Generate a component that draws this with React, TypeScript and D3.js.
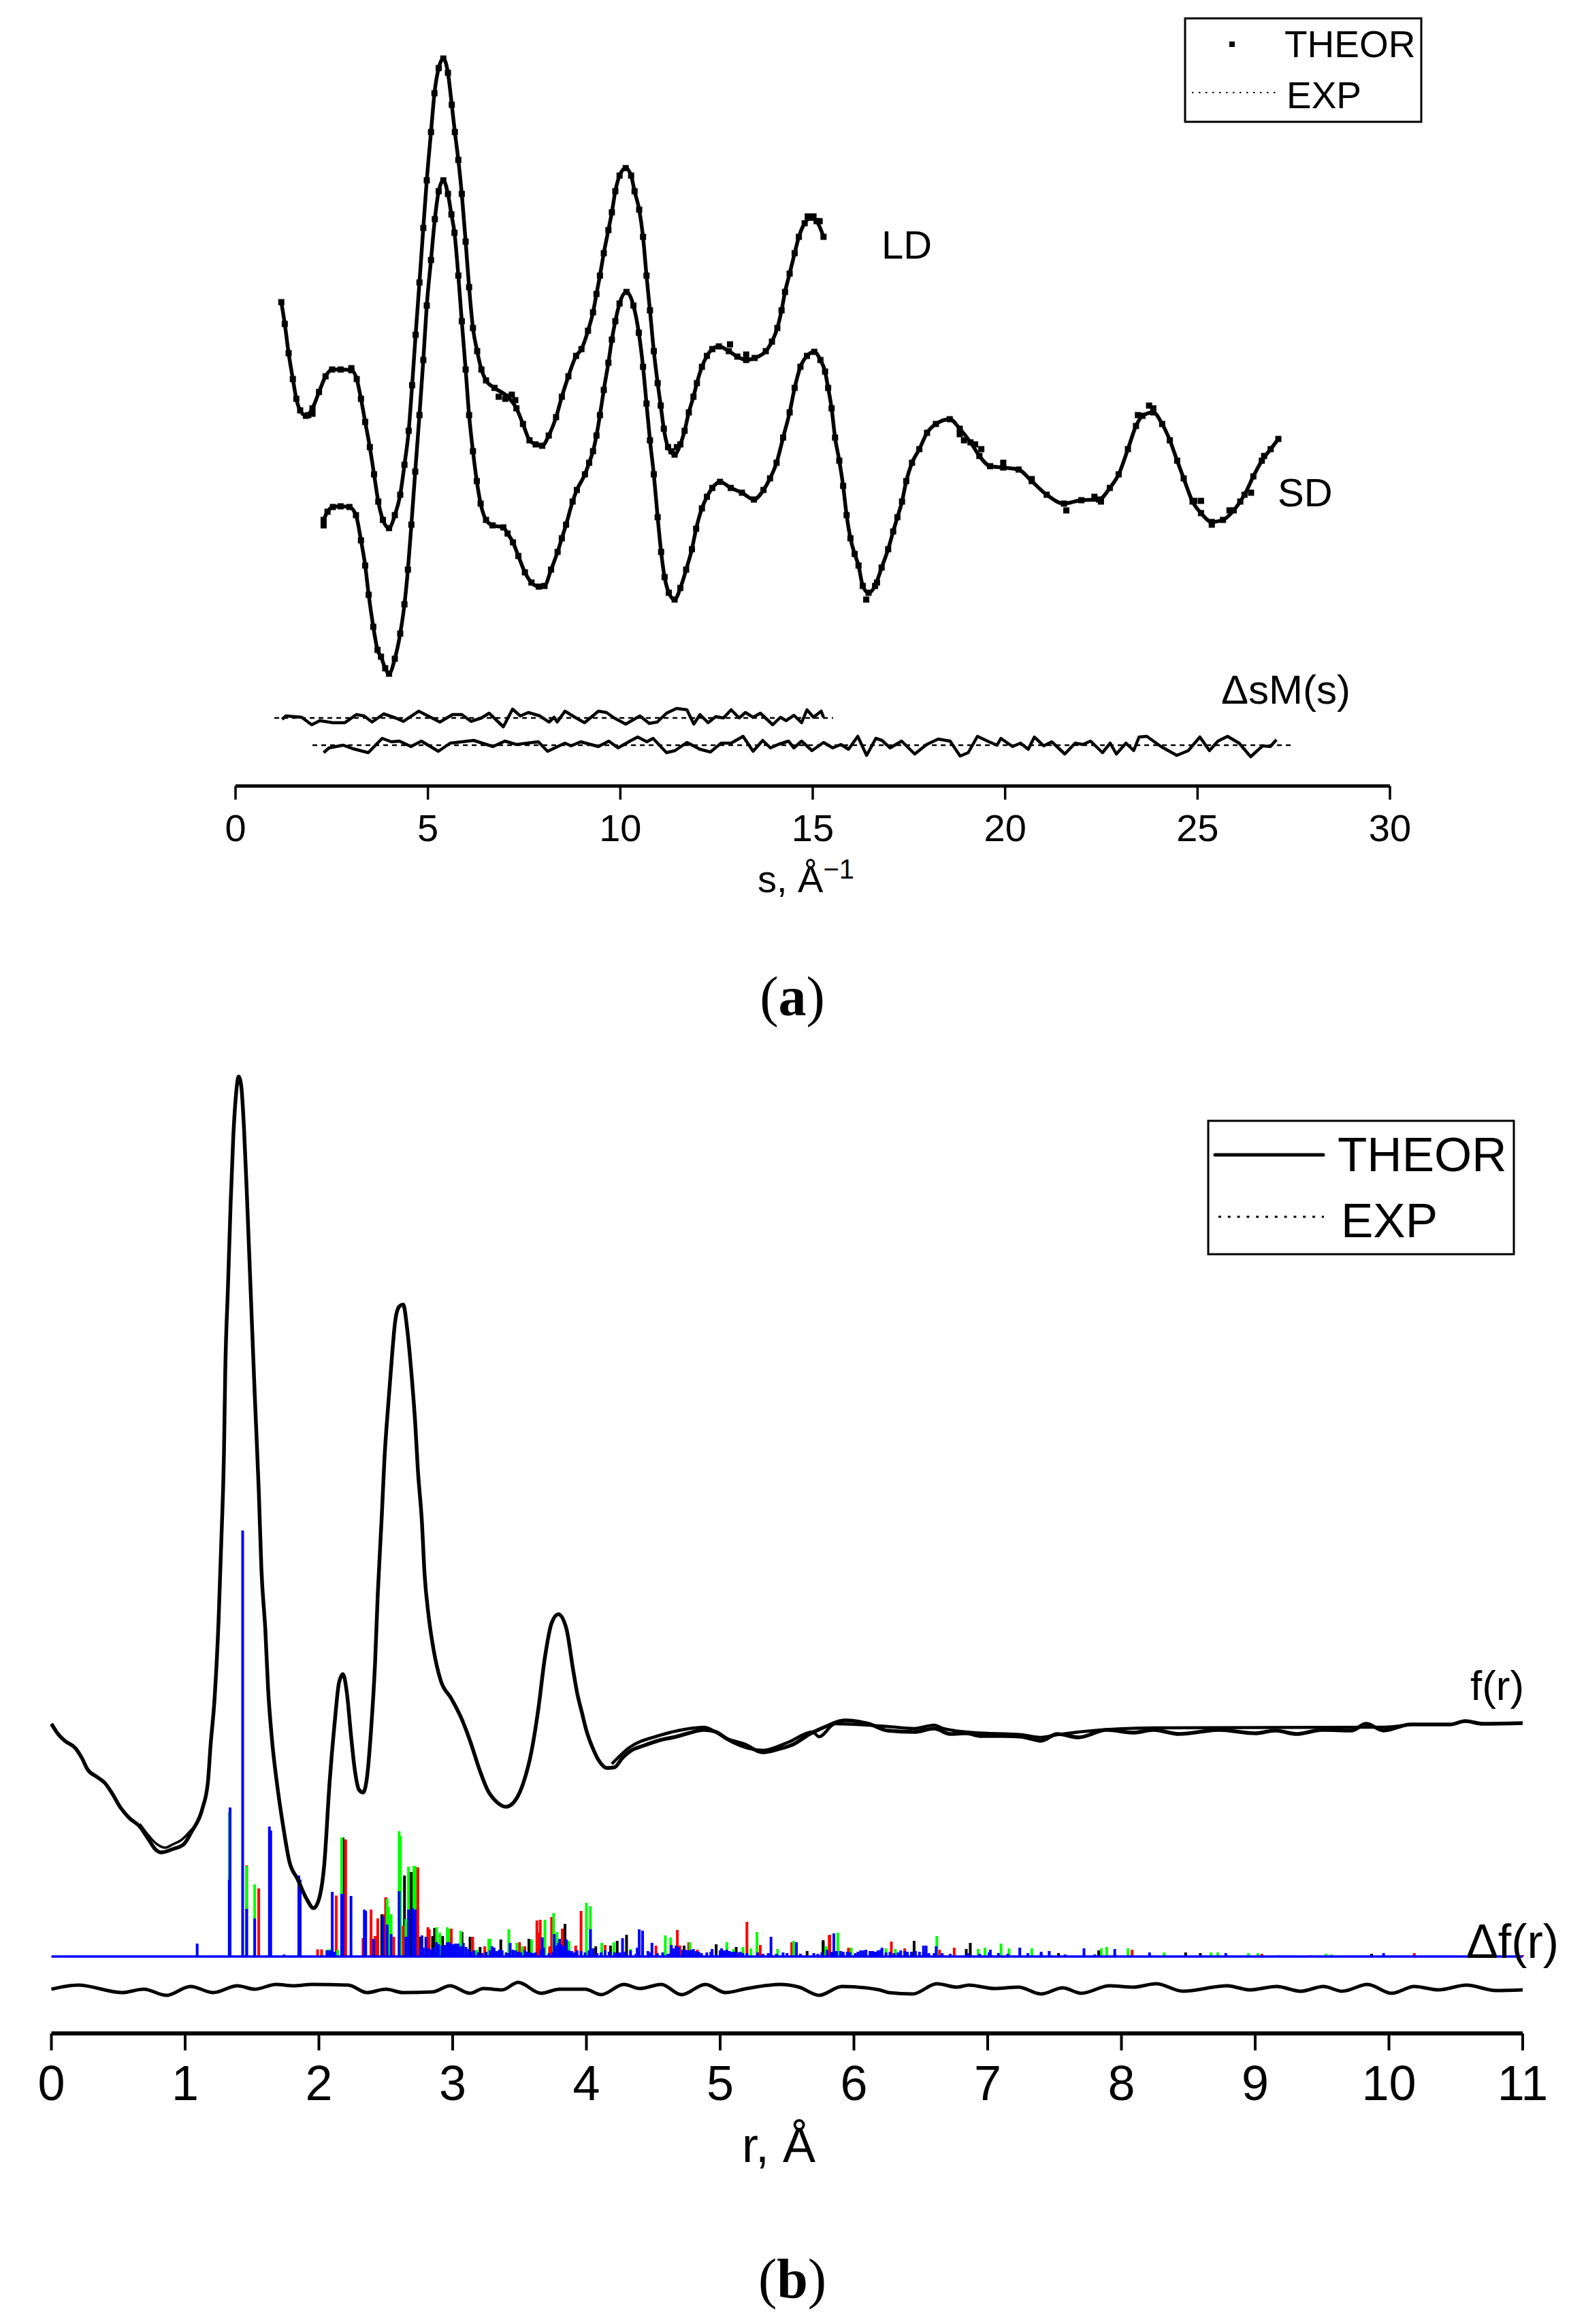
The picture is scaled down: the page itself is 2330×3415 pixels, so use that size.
import { useEffect, useRef } from 'react'
import * as d3 from 'd3'

type Pt = [number, number]

// panel (a): s in 1/angstrom, molecular intensity in arbitrary units
const ldCurve: Pt[] = [[1.19,71.1],[1.28,67.9],[1.38,63.6],[1.49,59.8],[1.58,56.9],[1.68,55.2],[1.83,54.4],[2.0,55.5],[2.17,57.9],[2.34,60.2],[2.51,61.2],[2.73,61.2],[3.01,61.1],[3.15,59.8],[3.26,56.9],[3.37,53.5],[3.49,49.8],[3.6,45.8],[3.71,41.8],[3.83,39.1],[3.99,37.9],[4.14,39.8],[4.28,42.8],[4.39,47.2],[4.5,52.2],[4.59,58.9],[4.68,66.3],[4.78,74.0],[4.88,82.0],[4.97,89.0],[5.08,96.1],[5.17,101.8],[5.28,105.5],[5.4,106.9],[5.52,104.8],[5.62,100.1],[5.7,96.1],[5.79,92],[5.88,87.0],[5.98,80.0],[6.07,73.3],[6.17,67.3],[6.28,63.9],[6.39,61.2],[6.51,59.6],[6.73,58.5],[7.07,57.2],[7.3,55.5],[7.47,53.2],[7.64,50.8],[7.8,50.2],[7.97,50.0],[8.14,51.5],[8.33,54.2],[8.48,57.2],[8.65,60.2],[8.85,63.2],[8.99,64.2],[9.16,66.9],[9.29,69.6],[9.38,72.3],[9.47,75.0],[9.57,78.3],[9.69,81.7],[9.78,84.3],[9.87,87.4],[9.98,89.7],[10.14,90.8],[10.28,89.7],[10.37,87.4],[10.49,84.7],[10.59,80.7],[10.68,75.0],[10.77,69.9],[10.87,63.9],[10.97,59.2],[11.05,55.9],[11.13,52.5],[11.24,49.8],[11.41,48.7],[11.56,50.2],[11.67,52.2],[11.78,54.9],[11.9,57.2],[11.99,59.2],[12.12,61.6],[12.25,63.2],[12.39,64.2],[12.56,64.6],[12.82,63.9],[13.04,63.1],[13.27,62.6],[13.49,62.9],[13.78,63.9],[13.94,65.3],[14.08,67.3],[14.19,69.9],[14.28,72.6],[14.4,75.3],[14.53,78.3],[14.64,80.7],[14.79,82.7],[14.94,83.5],[15.1,83.0],[15.28,80.7]]
const ldTheorOff: Pt[] = [[7.18,57.5],[7.01,56.9],[6.84,57.2],[7.27,56.7],[12.85,64.9],[13.27,63.4],[15.02,83.7],[14.87,83.7],[15.18,83.0],[11.47,49.8],[11.33,49.2],[1.89,54.5],[2.0,54.7],[3.01,61.4]]

const sdCurve: Pt[] = [[2.29,39.1],[2.39,40.3],[2.53,41.0],[2.73,41.1],[2.96,41.0],[3.13,39.8],[3.26,36.1],[3.37,32.4],[3.46,28.1],[3.58,23.4],[3.69,20.0],[3.78,19.0],[3.89,17.3],[3.99,16.5],[4.14,18.7],[4.28,22.4],[4.39,26.7],[4.48,31.8],[4.57,38.4],[4.67,46.2],[4.78,54.5],[4.88,62.6],[4.97,70.6],[5.08,77.3],[5.18,83.3],[5.28,87.4],[5.4,89.0],[5.52,87.0],[5.61,84.0],[5.69,81.3],[5.79,75.0],[5.88,68.3],[5.98,61.2],[6.07,54.5],[6.17,49.2],[6.27,44.8],[6.37,41.5],[6.51,39.1],[6.68,38.3],[6.96,38.0],[7.07,37.1],[7.21,35.8],[7.35,33.8],[7.52,31.4],[7.69,29.9],[7.88,29.3],[8.03,29.4],[8.2,31.8],[8.37,34.4],[8.48,36.4],[8.59,38.4],[8.76,41.8],[8.87,43.5],[9.08,45.8],[9.19,47.5],[9.29,49.2],[9.38,51.5],[9.47,54.5],[9.57,58.2],[9.69,62.2],[9.78,65.6],[9.87,68.3],[9.98,70.9],[10.16,72.6],[10.34,70.6],[10.48,66.6],[10.59,61.6],[10.68,56.2],[10.77,50.8],[10.87,45.8],[10.97,39.5],[11.06,34.4],[11.15,30.7],[11.26,28.4],[11.41,27.4],[11.56,29.1],[11.71,31.8],[11.86,34.8],[11.97,37.8],[12.12,40.8],[12.25,42.5],[12.39,43.8],[12.59,44.7],[12.87,43.8],[13.16,43.1],[13.47,42.1],[13.72,43.5],[13.89,45.2],[14.06,47.5],[14.23,51.2],[14.4,54.9],[14.53,58.5],[14.68,61.6],[14.85,63.2],[15.04,63.8],[15.2,62.6],[15.32,60.9],[15.4,58.5],[15.49,55.5],[15.58,51.2],[15.69,47.8],[15.79,44.1],[15.88,39.8],[15.98,36.4],[16.09,34.1],[16.19,32.4],[16.3,29.4],[16.45,28.4],[16.62,29.4],[16.79,32.1],[16.96,34.8],[17.09,37.4],[17.2,39.5],[17.32,41.8],[17.43,44.8],[17.58,47.5],[17.77,49.5],[17.97,51.9],[18.2,53.2],[18.56,53.9],[18.82,52.5],[19.1,50.5],[19.33,48.5],[19.61,47.0],[19.95,46.8],[20.35,46.5],[20.69,44.8],[21.08,42.8],[21.53,41.5],[21.98,42.0],[22.44,42.1],[22.72,43.8],[22.95,45.8],[23.19,49.5],[23.4,52.9],[23.57,54.4],[23.85,54.9],[24.08,53.2],[24.28,50.8],[24.47,47.8],[24.64,45.2],[24.87,41.8],[25.09,40.1],[25.37,38.8],[25.66,39.1],[25.94,40.5],[26.22,42.8],[26.45,45.5],[26.67,47.8],[26.9,49.5],[27.1,51.0]]
const sdTheorOff: Pt[] = [[2.29,38.3],[23.74,55.9],[23.85,55.5],[23.45,54.5],[18.82,51.7],[18.93,50.8],[19.22,50.2],[19.38,49.5],[19.95,47.5],[20.69,45.1],[21.59,40.5],[22.32,42.5],[22.49,41.8],[25.37,38.4],[25.83,40.5],[26.11,41.8],[26.39,43.1],[26.73,48.5],[16.39,27.4],[16.67,29.9],[24.92,41.9],[25.09,41.9]]

const dsmLd: Pt[] = [[1.21,9.8],[1.31,10.3],[1.72,10.1],[1.98,9.0],[2.19,9.6],[2.53,9.3],[2.84,9.3],[3.14,10.5],[3.34,10.3],[3.55,9.4],[3.85,10.6],[4.16,10.0],[4.36,9.5],[4.76,11.0],[5.07,10.1],[5.31,9.4],[5.64,10.5],[5.88,10.5],[6.12,9.5],[6.39,10.0],[6.59,10.7],[6.96,8.7],[7.2,11.3],[7.4,10.3],[7.61,10.8],[7.91,10.3],[8.15,9.4],[8.28,10.1],[8.36,9.4],[8.56,11.0],[8.82,10.1],[9.07,9.3],[9.43,11.0],[9.64,10.8],[9.84,10.0],[10.14,9.1],[10.51,10.3],[10.75,9.2],[10.96,9.4],[11.2,10.7],[11.46,11.4],[11.73,11.2],[11.91,9.1],[12.07,10.5],[12.28,9.3],[12.48,10.2],[12.68,10.0],[12.88,11.2],[13.09,10.0],[13.25,10.8],[13.45,10.1],[13.64,10.7],[13.96,9.0],[14.16,10.1],[14.31,9.6],[14.51,10.4],[14.71,9.3],[14.85,11.2],[15.02,10.1],[15.22,11.0],[15.28,10.1]]
const dsmSd: Pt[] = [[2.29,4.9],[2.43,5.6],[2.8,6.0],[3.04,5.5],[3.45,4.9],[3.81,7.0],[4.05,6.5],[4.26,6.6],[4.56,5.8],[4.83,6.6],[5.27,5.1],[5.58,6.3],[6.19,6.7],[6.69,5.8],[7.0,6.6],[7.3,6.1],[7.87,6.5],[8.11,5.1],[8.56,6.3],[8.72,5.9],[8.97,6.5],[9.43,5.8],[9.7,6.6],[9.94,5.6],[10.25,6.6],[10.45,7.2],[10.69,6.5],[10.85,7.0],[11.2,4.9],[11.42,5.2],[11.73,6.4],[12.07,5.4],[12.34,5.0],[12.62,6.3],[12.88,6.3],[13.19,7.3],[13.45,5.1],[13.7,6.7],[13.9,5.6],[14.1,6.1],[14.37,6.6],[14.51,5.6],[14.71,6.6],[14.98,5.2],[15.28,6.4],[15.52,5.6],[15.73,6.1],[15.93,5.4],[16.17,7.3],[16.4,4.5],[16.64,7.0],[16.8,6.7],[17.01,5.6],[17.31,6.6],[17.65,4.7],[17.96,6.1],[18.26,6.9],[18.57,6.6],[18.83,4.4],[19.04,4.9],[19.28,7.3],[19.58,6.5],[19.79,6.0],[19.89,7.0],[20.19,5.8],[20.4,6.3],[20.6,5.4],[20.76,7.2],[21.0,5.9],[21.21,6.5],[21.55,4.7],[21.82,6.3],[22.02,6.1],[22.22,6.6],[22.53,4.9],[22.73,6.3],[22.89,4.7],[23.14,6.3],[23.34,5.2],[23.48,7.2],[23.68,7.3],[24.05,5.8],[24.46,4.5],[24.76,5.2],[25.06,7.2],[25.31,5.2],[25.53,6.6],[25.78,7.3],[26.08,6.3],[26.38,4.3],[26.69,5.9],[26.89,5.8],[27.05,6.8]]
const dsmLdZero: Pt[] = [[1.01,10],[15.53,10]]
const dsmSdZero: Pt[] = [[2.0,6],[27.5,6]]

const sMajor = [0, 5, 10, 15, 20, 25, 30]
const sMinor = [2.5, 7.5, 12.5, 17.5, 22.5, 27.5]

// panel (b): r in angstrom, f(r) in arbitrary units
const fTheor: Pt[] = [[0,45.5],[0.05,44.0],[0.1,43.0],[0.18,41.9],[0.23,40.4],[0.27,38.8],[0.34,37.7],[0.4,36.8],[0.45,35.4],[0.52,33.1],[0.58,31.7],[0.66,30.4],[0.73,28.4],[0.78,27.0],[0.82,26.6],[0.91,27.1],[0.99,27.8],[1.05,29.7],[1.13,33.1],[1.17,36.9],[1.19,42.3],[1.22,49.2],[1.25,60.7],[1.27,72.1],[1.29,85.1],[1.3,97.4],[1.32,109.6],[1.34,121.9],[1.36,131.8],[1.38,137.9],[1.4,140.6],[1.42,139.1],[1.44,133],[1.46,124],[1.49,109],[1.52,94],[1.55,80],[1.57,68.3],[1.6,59.1],[1.62,50.7],[1.65,43.0],[1.69,36.2],[1.73,30.8],[1.78,25.2],[1.84,22.7],[1.91,19.7],[1.96,18.4],[2.0,19.7],[2.04,24.8],[2.08,36.9],[2.12,46.1],[2.15,51.5],[2.18,52.8],[2.21,49.9],[2.24,43.8],[2.27,38.5],[2.3,35.8],[2.33,35.4],[2.36,37.7],[2.39,44.6],[2.42,54.5],[2.44,64.5],[2.47,76.0],[2.49,84.4],[2.52,92.8],[2.55,100.4],[2.57,104.6],[2.6,106.8],[2.63,107.1],[2.66,103.5],[2.69,97.4],[2.72,89.7],[2.74,82.8],[2.77,75.2],[2.79,67.5],[2.82,61.4],[2.86,56.1],[2.91,51.9],[2.99,49.2],[3.07,46.1],[3.13,43.0],[3.2,38.8],[3.26,35.8],[3.33,34.0],[3.4,33.3],[3.48,34.6],[3.53,36.9],[3.59,41.5],[3.64,47.6],[3.69,55.3],[3.74,60.3],[3.79,61.6],[3.85,59.5],[3.9,53.5],[3.93,50.1],[3.967,47.1],[4.0,44.5],[4.05,41.8],[4.096,40.0],[4.154,39.0],[4.21,39.1],[4.27,40.5],[4.33,41.5],[4.43,42.3],[4.55,43.1],[4.67,43.6],[4.76,44.1],[4.88,44.6],[4.97,44.3],[5.05,43.3],[5.18,42.5],[5.32,41.3],[5.44,41.8],[5.55,42.5],[5.67,44.0],[5.79,45.1],[5.93,46.0],[6.11,45.5],[6.25,44.5],[6.45,44.3],[6.6,44.8],[6.72,44.0],[6.84,44.1],[6.95,43.7],[7.12,43.7],[7.25,43.6],[7.4,43.0],[7.52,44.0],[7.68,43.5],[7.89,44.6],[8.09,44.2],[8.24,44.6],[8.43,44.0],[8.73,44.6],[9.0,44.1],[9.15,44.5],[9.31,44.0],[9.5,44.6],[9.72,44.5],[9.83,45.5],[9.96,44.5],[10.16,45.4],[10.46,45.4],[10.57,45.9],[10.7,45.5],[11,45.6]]
const fExpLow: Pt[] = [[0.66,30.8],[0.73,29.0],[0.79,27.8],[0.85,27.3],[0.91,27.8],[0.97,28.4],[1.05,30.0]]
const fExpHigh: Pt[] = [[4.19,39.6],[4.32,42.0],[4.53,43.7],[4.74,44.7],[4.88,45.0],[4.99,44.0],[5.09,42.8],[5.32,41.6],[5.51,42.8],[5.69,44.3],[5.74,43.6],[5.86,45.5],[6.25,45.1],[6.45,44.8],[6.6,45.3],[6.67,44.8],[6.9,44.2],[7.25,43.9],[7.4,43.5],[7.52,43.9],[8.24,44.9],[9.96,45.0],[10.16,45.4]]

const dfResidual: Pt[] = [[0,6.5],[0.2,7.1],[0.53,6.0],[0.69,6.5],[0.86,5.6],[1.04,6.9],[1.21,6.0],[1.39,7.0],[1.52,6.5],[1.68,7.2],[1.81,7.0],[1.95,7.2],[2.22,7.1],[2.36,6.0],[2.5,6.5],[2.63,6.0],[2.85,6.1],[2.98,7.0],[3.13,5.9],[3.23,6.6],[3.37,6.4],[3.49,7.5],[3.66,5.9],[3.8,6.5],[3.99,6.5],[4.11,5.7],[4.28,7.2],[4.4,6.6],[4.56,7.2],[4.71,5.7],[4.89,7.2],[5.04,6.0],[5.2,6.6],[5.45,7.2],[5.59,6.8],[5.74,5.6],[5.91,6.9],[6.19,6.4],[6.26,6.0],[6.44,5.8],[6.62,7.3],[6.77,6.8],[6.86,7.1],[7.05,6.6],[7.23,6.8],[7.4,5.8],[7.56,6.7],[7.7,5.9],[7.91,7.0],[8.09,6.8],[8.26,7.3],[8.46,6.2],[8.79,7.0],[8.96,6.4],[9.16,6.9],[9.34,6.2],[9.51,6.9],[9.65,6.2],[9.84,7.2],[10.02,5.9],[10.19,6.9],[10.37,6.4],[10.58,7.1],[10.8,6.3],[11,6.4]]

const stickBase = 11.3
const sticksBlack: Pt[] = [[2.18,17.5],[2.39,2.7],[2.47,6.2],[2.5,8.7],[2.64,11.9],[2.69,12.4],[2.75,2.9],[2.85,3.0],[2.865,4.2],[2.925,3.0],[3.07,3.6],[3.13,2.9],[3.205,1.4],[3.36,2.5],[3.57,2.6],[3.84,4.8],[4.07,1.5],[4.18,1.6],[4.23,2.3],[4.3,3.2],[4.73,1.6],[4.97,1.8],[5.12,1.4],[5.65,0.8],[5.77,2.2],[5.77,2.4],[6.45,2.3],[6.84,1.1],[6.87,2.0],[7.53,0.5],[7.83,0.9],[8.48,0.6],[8.59,0.5],[9.87,0.4]]
const sticksRed: Pt[] = [[1.46,13.4],[1.55,10.0],[1.99,1.05],[2.02,1.05],[2.13,8.95],[2.2,17.2],[2.33,2.7],[2.39,6.9],[2.42,3.0],[2.44,5.6],[2.49,6.2],[2.5,8.7],[2.56,2.9],[2.63,4.5],[2.74,13.1],[2.815,4.3],[2.825,4.0],[2.99,4.1],[3.15,2.9],[3.24,1.5],[3.5,2.1],[3.54,1.5],[3.63,5.3],[3.64,3.5],[3.655,5.4],[3.725,1.5],[3.74,5.8],[3.82,4.1],[3.92,1.6],[3.96,6.7],[4.14,1.7],[4.52,1.6],[4.68,3.9],[4.7,1.6],[4.765,2.1],[4.83,1.0],[5.2,5.1],[5.3,1.7],[5.535,2.1],[5.815,3.1],[5.96,1.1],[5.82,3.2],[5.96,1.3],[6.28,2.2],[6.38,1.2],[6.64,1.0],[6.75,1.3],[8.08,1.0],[9.05,0.4],[9.18,0.2],[9.41,0.2],[10.19,0.5],[11,0.2]]
const sticksGreen: Pt[] = [[1.33,21.2],[1.46,13.3],[1.52,10.6],[2.07,1.05],[2.09,1.05],[2.14,1.0],[2.17,17.5],[2.51,8.5],[2.52,7.3],[2.54,6.2],[2.6,18.4],[2.61,17.7],[2.65,5.5],[2.67,13.2],[2.71,13.3],[2.72,13.3],[2.88,4.3],[2.905,3.5],[2.96,4.3],[2.97,4.1],[3.06,3.8],[3.18,1.0],[3.27,2.6],[3.28,2.6],[3.42,4.0],[3.48,2.0],[3.52,1.5],[3.59,2.5],[3.69,5.4],[3.755,6.4],[3.78,3.6],[3.87,2.3],[4.0,7.9],[4.03,7.4],[4.115,2.0],[4.205,2.1],[4.33,1.1],[4.59,3.1],[4.63,2.8],[4.775,2.1],[5.05,2.1],[5.1,1.1],[5.17,1.4],[5.23,1.2],[5.275,3.6],[5.43,1.1],[5.55,2.3],[5.79,1.4],[5.88,3.4],[5.79,1.5],[5.88,3.5],[5.98,1.3],[6.24,1.2],[6.31,1.1],[6.62,3.0],[6.93,1.1],[6.98,1.3],[7.1,1.9],[7.16,1.2],[7.33,1.2],[7.85,1.2],[7.89,1.4],[8.05,1.2],[8.32,0.6],[8.67,0.6],[8.72,0.6],[8.95,0.5],[9.02,0.5],[9.53,0.4],[9.57,0.3]]
const sticksBlue: Pt[] = [[1.09,1.9],[1.33,11.3],[1.336,21.9],[1.43,62.6],[1.46,7.0],[1.52,5.6],[1.63,19.1],[1.64,18.5],[1.74,0.3],[1.85,11.9],[1.86,11.3],[2.1,9.5],[2.17,9.2],[2.18,9.2],[2.24,8.9],[2.34,6.9],[2.35,6.7],[2.41,2.6],[2.48,5.9],[2.51,4.7],[2.54,3.3],[2.6,9.6],[2.65,2.9],[2.67,6.9],[2.7,7.1],[2.72,6.9],[2.77,3.1],[2.8,2.9],[2.88,2.1],[2.895,1.8],[2.96,2.1],[2.975,2.1],[3.0,1.8],[3.02,1.9],[3.04,1.9],[3.08,2.0],[3.295,1.5],[3.43,2.0],[3.67,2.8],[3.76,3.3],[3.8,2.6],[3.85,2.5],[4.03,4.0],[4.27,2.7],[4.38,1.3],[4.395,4.0],[4.42,3.8],[4.49,2.0],[4.635,1.7],[4.94,1.1],[5.01,1.2],[5.38,2.9],[5.57,2.1],[5.85,3.2],[5.85,3.4],[6.21,1.3],[6.52,1.6],[6.54,1.6],[6.615,1.5],[7.02,1.0],[7.24,1.3],[7.4,0.7],[7.46,0.8],[7.72,1.2],[7.95,1.1],[8.21,0.6],[8.78,0.5],[9.96,0.5],[2.06,0.9],[2.08,0.9],[2.12,0.7],[2.76,1.2],[2.78,1.3],[2.82,1.2],[2.84,1.0],[2.86,1.4],[2.92,1.6],[2.94,1.7],[2.98,1.9],[3.0,1.7],[3.06,1.5],[3.1,1.4],[3.12,1.1],[3.14,0.7],[3.16,0.9],[3.19,0.6],[3.22,0.5],[3.25,0.7],[3.28,0.9],[3.31,1.3],[3.33,0.8],[3.35,1.0],[3.37,0.9],[3.4,0.6],[3.42,0.5],[3.45,1.0],[3.47,0.9],[3.49,0.7],[3.51,0.6],[3.54,0.9],[3.56,0.7],[3.58,0.6],[3.6,0.5],[3.62,0.6],[3.66,1.0],[3.68,1.3],[3.72,0.5],[3.75,0.7],[3.77,1.6],[3.79,2.0],[3.81,1.8],[3.83,1.5],[3.87,0.9],[3.89,0.8],[3.91,0.6],[3.93,0.9],[3.96,0.8],[3.99,0.6],[4.02,0.9],[4.05,1.2],[4.08,0.5],[4.11,0.6],[4.14,0.9],[4.17,0.7],[4.21,0.6],[4.23,0.5],[4.25,0.6],[4.29,0.7],[4.33,0.9],[4.37,0.4],[4.42,1.2],[4.46,0.8],[4.48,0.6],[4.53,0.5],[4.57,0.6],[4.61,0.4],[4.63,0.5],[4.65,1.2],[4.67,1.6],[4.69,1.4],[4.72,1.0],[4.74,1.0],[4.76,0.9],[4.78,1.0],[4.8,1.1],[4.82,0.8],[4.84,0.7],[4.86,0.5],[4.9,0.6],[4.93,0.7],[4.97,0.4],[5.0,0.9],[5.03,0.9],[5.05,1.0],[5.07,0.8],[5.09,0.7],[5.11,0.7],[5.13,0.6],[5.15,0.7],[5.17,0.5],[5.2,0.5],[5.28,0.6],[5.32,0.4],[5.36,0.5],[5.42,0.4],[5.47,0.6],[5.5,0.5],[5.6,0.4],[5.7,0.5],[5.73,0.4],[5.76,0.6],[5.8,1.0],[5.83,0.7],[5.87,0.8],[5.9,0.8],[5.92,0.7],[5.95,0.7],[5.97,0.6],[6.01,0.5],[6.03,0.7],[6.05,0.9],[6.07,0.9],[6.09,1.0],[6.12,0.8],[6.14,0.8],[6.16,0.7],[6.18,0.9],[6.2,1.0],[6.24,0.6],[6.27,0.7],[6.3,0.5],[6.33,0.6],[6.35,0.9],[6.38,0.8],[6.4,0.7],[6.43,0.7],[6.46,0.8],[6.49,0.7],[6.52,0.6],[6.56,0.5],[6.6,0.5],[6.66,0.5],[6.72,0.4],[6.85,0.5],[6.94,0.4],[7.01,0.6],[7.08,0.5],[7.15,0.4],[7.3,0.5],[7.4,0.4],[7.58,0.3],[7.8,0.3],[7.95,0.3]]
const stickLayers: [Pt[], string][] = [[sticksBlack, '#000'], [sticksRed, '#ff0000'], [sticksGreen, '#00ff00'], [sticksBlue, '#0000ff']]

const rMajor = d3.range(0, 12)
const rMinor = d3.range(0, 11).map(d => d + 0.5)

const sans = '"Liberation Sans", Arial, sans-serif'
const serif = '"Liberation Serif", "Times New Roman", serif'

export default function App() {
  const svgRef = useRef<SVGSVGElement>(null)

  useEffect(() => {
    if (!svgRef.current) return
    const svg = d3.select(svgRef.current)
    svg.selectAll('*').remove()

    const xA = d3.scaleLinear().domain([0, 30]).range([346, 2042])
    const yA = d3.scaleLinear().domain([0, 115.5]).range([1155, 0])
    const xB = d3.scaleLinear().domain([0, 11]).range([75.5, 2237])
    const yB = d3.scaleLinear().domain([0, 298.8]).range([2988, 0])

    const lineA = d3.line<Pt>().x(d => xA(d[0])).y(d => yA(d[1])).curve(d3.curveMonotoneX)
    const jagA = d3.line<Pt>().x(d => xA(d[0])).y(d => yA(d[1]))
    const lineB = d3.line<Pt>().x(d => xB(d[0])).y(d => yB(d[1])).curve(d3.curveMonotoneX)

    const path = (gen: d3.Line<Pt>, data: Pt[], w: number, dash?: string) =>
      svg.append('path')
        .attr('d', gen(data))
        .attr('fill', 'none')
        .attr('stroke', '#000')
        .attr('stroke-width', w)
        .attr('stroke-linejoin', 'round')
        .attr('stroke-dasharray', dash ?? null)

    const label = (txt: string, x: number, y: number, size: number, anchor = 'start', family = sans) =>
      svg.append('text')
        .attr('x', x).attr('y', y)
        .attr('text-anchor', anchor)
        .attr('font-family', family)
        .attr('font-size', size)
        .attr('fill', '#000')
        .text(txt)

    // panel a curves
    path(lineA, ldCurve, 5.5)
    path(lineA, sdCurve, 5.5)
    const points = [...ldCurve, ...ldTheorOff, ...sdCurve, ...sdTheorOff]
    svg.append('g').selectAll('rect').data(points).enter().append('rect')
      .attr('x', d => xA(d[0]) - 4.5)
      .attr('y', d => yA(d[1]) - 4.5)
      .attr('width', 9).attr('height', 9)
      .attr('fill', '#000')

    path(jagA, dsmLdZero, 2.5, '7 6')
    path(jagA, dsmSdZero, 2.5, '7 6')
    path(jagA, dsmLd, 4.5)
    path(jagA, dsmSd, 4.5)

    // axis a
    const axisA = svg.append('g').attr('transform', 'translate(0,1155)')
    axisA.call(d3.axisBottom(xA).tickValues(sMinor).tickSize(11).tickSizeOuter(0).tickFormat(() => '').offset(0))
    axisA.call(d3.axisBottom(xA).tickValues(sMajor).tickSize(20).tickSizeOuter(0).tickPadding(21).offset(0))
    axisA.selectAll('.domain').attr('stroke-width', 5).attr('stroke', '#000')
    axisA.selectAll('.tick line').attr('stroke-width', 3.5).attr('stroke', '#000')
    axisA.selectAll('text').attr('font-family', sans).attr('font-size', 56).attr('fill', '#000')

    const sLabel = label('s, Å', 1113, 1311, 56)
    sLabel.append('tspan').attr('dy', -20).attr('font-size', 40).text('−1')

    // legend a
    svg.append('rect').attr('x', 1741).attr('y', 27).attr('width', 347).attr('height', 152)
      .attr('fill', 'none').attr('stroke', '#000').attr('stroke-width', 3)
    svg.append('rect').attr('x', 1806).attr('y', 61).attr('width', 8).attr('height', 8).attr('fill', '#000')
    svg.append('line').attr('x1', 1751).attr('x2', 1875).attr('y1', 136).attr('y2', 136)
      .attr('stroke', '#000').attr('stroke-width', 2).attr('stroke-dasharray', '2.5 7.5')
    label('THEOR', 1887, 84, 55)
    label('EXP', 1890, 159, 55)
    label('LD', 1295, 380, 58)
    label('SD', 1877, 744, 58)
    label('ΔsM(s)', 1794, 1034, 60)
    const capA = label('(', 1164, 1492, 82, 'middle', serif)
    capA.append('tspan').attr('font-weight', 'bold').text('a')
    capA.append('tspan').text(')')

    // panel b sticks, black first and blue on top
    stickLayers.forEach(([data, color]) => {
      svg.append('g').selectAll('rect').data(data).enter().append('rect')
        .attr('x', d => xB(d[0]) - 2)
        .attr('y', d => yB(stickBase + d[1]))
        .attr('width', 4)
        .attr('height', d => yB(stickBase) - yB(stickBase + d[1]))
        .attr('fill', color)
    })
    svg.append('line')
      .attr('x1', xB(0)).attr('x2', xB(11))
      .attr('y1', yB(stickBase)).attr('y2', yB(stickBase))
      .attr('stroke', '#0000ff').attr('stroke-width', 3.5)

    path(lineB, fTheor, 5.5)
    path(lineB, fExpLow, 3.5)
    path(lineB, fExpHigh, 4.5)
    path(lineB, dfResidual, 5)

    // axis b
    const axisB = svg.append('g').attr('transform', 'translate(0,2988)')
    axisB.call(d3.axisBottom(xB).tickValues(rMinor).tickSize(11).tickSizeOuter(0).tickFormat(() => '').offset(0))
    axisB.call(d3.axisBottom(xB).tickValues(rMajor).tickSize(25).tickSizeOuter(0).tickPadding(22).offset(0))
    axisB.selectAll('.domain').attr('stroke-width', 6).attr('stroke', '#000')
    axisB.selectAll('.tick line').attr('stroke-width', 4).attr('stroke', '#000')
    axisB.selectAll('text').attr('font-family', sans).attr('font-size', 72).attr('fill', '#000')

    label('r, Å', 1090, 3177, 72)

    // legend b
    svg.append('rect').attr('x', 1775).attr('y', 1647).attr('width', 449).attr('height', 196)
      .attr('fill', 'none').attr('stroke', '#000').attr('stroke-width', 3)
    svg.append('line').attr('x1', 1785).attr('x2', 1944).attr('y1', 1697).attr('y2', 1697)
      .attr('stroke', '#000').attr('stroke-width', 5).attr('stroke-linecap', 'round')
    svg.append('line').attr('x1', 1790).attr('x2', 1945).attr('y1', 1788).attr('y2', 1788)
      .attr('stroke', '#000').attr('stroke-width', 3).attr('stroke-dasharray', '4 9.8')
    label('THEOR', 1965, 1721, 71)
    label('EXP', 1970, 1818, 71)
    label('f(r)', 2160, 2498, 62)
    label('Δf(r)', 2154, 2877, 70)
    const capB = label('(', 1164, 3376, 82, 'middle', serif)
    capB.append('tspan').attr('font-weight', 'bold').text('b')
    capB.append('tspan').text(')')
  }, [])

  return (
    <svg
      ref={svgRef}
      width={2330}
      height={3415}
      style={{ position: 'absolute', left: 0, top: 0, background: '#fff' }}
    />
  )
}
